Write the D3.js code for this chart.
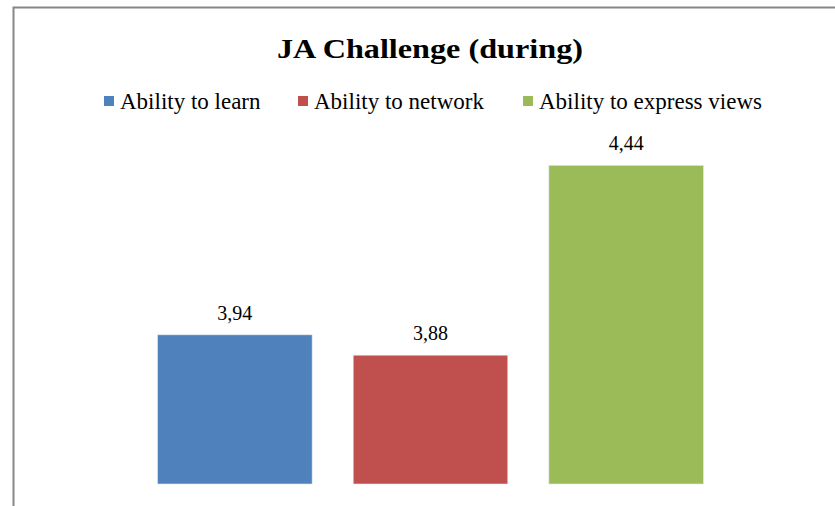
<!DOCTYPE html>
<html>
<head>
<meta charset="utf-8">
<script src="https://cdn.jsdelivr.net/npm/d3@7"></script>
<style>
  body { margin: 0; background: #fff; }
</style>
</head>
<body>
<div id="canvas"></div>
<script>
var categories = ["Ability to learn", "Ability to network", "Ability to express views"];
var values = [3.94, 3.88, 4.44];
var colors = ["#4F81BD", "#C0504D", "#9BBB59"];
var title = "JA Challenge (during)";

var width = 835, height = 506;
var serif = "'Liberation Serif', Tinos, 'Times New Roman', 'DejaVu Serif', serif";

var svg = d3.select("#canvas").append("svg")
    .attr("width", width)
    .attr("height", height)
    .style("font-family", serif);

// chart frame (only top and left edges visible in the crop)
svg.append("path")
    .attr("d", "M 13.5 506 L 13.5 7.5 L 835 7.5")
    .attr("fill", "none")
    .attr("stroke", "#878787")
    .attr("stroke-width", 2);

svg.append("text")
    .attr("x", 430)
    .attr("y", 58)
    .attr("text-anchor", "middle")
    .attr("font-family", serif)
    .attr("textLength", 306)
    .attr("lengthAdjust", "spacingAndGlyphs")
    .style("font-size", "28px")
    .style("font-weight", "bold")
    .text(title);

// legend
var legendX = [104, 298, 523];
var legend = svg.selectAll("g.legend")
    .data(categories)
  .enter().append("g")
    .attr("class", "legend")
    .attr("transform", function(d, i) { return "translate(" + legendX[i] + ",101)"; });

legend.append("rect")
    .attr("x", 0)
    .attr("y", -5)
    .attr("width", 10)
    .attr("height", 10)
    .attr("fill", function(d, i) { return colors[i]; });

legend.append("text")
    .attr("x", 16)
    .attr("dy", "0.35em")
    .attr("font-family", serif)
    .style("font-size", "23px")
    .text(function(d) { return d; });

// scales
var x = d3.scaleBand()
    .domain(categories)
    .range([137, 724])
    .paddingInner(0.21)
    .paddingOuter(0.105);

var y = d3.scaleLinear()
    .domain([3.5, 4.5])
    .range([484, 145]);

var fmt = function(v) { return d3.format(".2f")(v).replace(".", ","); };

svg.selectAll("rect.bar")
    .data(values)
  .enter().append("rect")
    .attr("class", "bar")
    .attr("x", function(d, i) { return x(categories[i]); })
    .attr("y", function(d) { return y(d); })
    .attr("width", x.bandwidth())
    .attr("height", function(d) { return y(3.5) - y(d); })
    .attr("fill", function(d, i) { return colors[i]; })
    .attr("stroke", "#dfe6ee")
    .attr("stroke-width", 0.6);

svg.selectAll("text.label")
    .data(values)
  .enter().append("text")
    .attr("class", "label")
    .attr("x", function(d, i) { return x(categories[i]) + x.bandwidth() / 2; })
    .attr("y", function(d) { return y(d) - 15; })
    .attr("text-anchor", "middle")
    .attr("font-family", serif)
    .style("font-size", "20px")
    .text(fmt);
</script>
</body>
</html>
